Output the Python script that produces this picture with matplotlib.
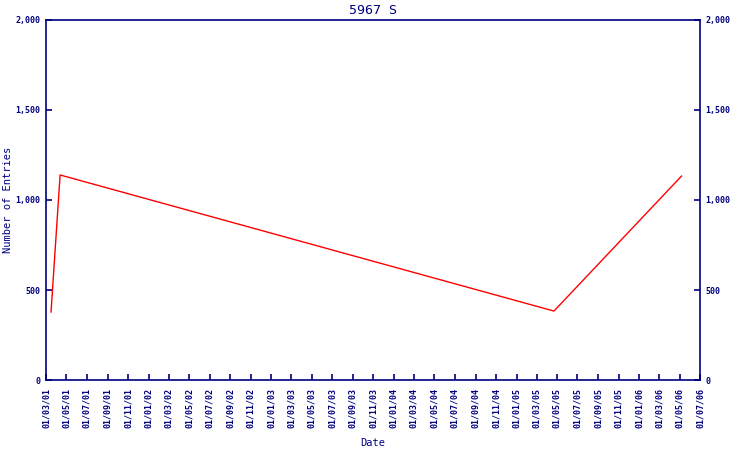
import matplotlib
matplotlib.use("Agg")
import matplotlib.pyplot as plt
import matplotlib.dates as mdates
import matplotlib.ticker as mticker
import pandas as pd

# data
dates = pd.to_datetime(["2001-03-16", "2001-04-12", "2005-04-22", "2006-05-07"])
entries = [378, 1139, 383, 1133]

title = "5967 S"
navy = "#000080"
mono = "DejaVu Sans Mono"

fig = plt.figure(figsize=(7.5, 4.5), dpi=100)
ax = fig.add_axes([46 / 750, 70 / 450, 654 / 750, 360 / 450])

ax.plot(dates, entries, color="red", linewidth=1)

ax.set_xlim(pd.Timestamp("2001-03-01"), pd.Timestamp("2006-07-01"))
ax.set_ylim(0, 2000)

ax.xaxis.set_major_locator(mdates.MonthLocator(bymonth=[1, 3, 5, 7, 9, 11]))
ax.xaxis.set_major_formatter(mdates.DateFormatter("%d/%m/%y"))
ax.yaxis.set_major_locator(mticker.MultipleLocator(500))
ax.yaxis.set_major_formatter(mticker.FuncFormatter(lambda v, p: f"{int(v):,}"))

for s in ax.spines.values():
    s.set_color(navy)
    s.set_linewidth(1.2)

ax.tick_params(axis="both", direction="in", length=4, width=1.2, color=navy,
               labelcolor=navy, labelsize=6)
ax.tick_params(axis="y", right=True, labelright=True, pad=4)
ax.tick_params(axis="x", pad=6)
for lbl in ax.get_xticklabels() + ax.get_yticklabels():
    lbl.set_fontfamily(mono)
    lbl.set_fontweight("bold")
for lbl in ax.get_xticklabels():
    lbl.set_rotation(90)

ax.set_title(title, color=navy, fontsize=9.5, fontfamily=mono, pad=4)
ax.set_xlabel("Date", color=navy, fontsize=7.5, fontfamily=mono)
ax.set_ylabel("Number of Entries", color=navy, fontsize=7.5, fontfamily=mono)
ax.xaxis.set_label_coords((373 - 46) / 654, (380 - 443) / 360)
ax.yaxis.set_label_coords((8 - 46) / 654, 0.5)
ax.xaxis.label.set_va("center")
ax.yaxis.label.set_va("center")

fig.savefig("out.png", dpi=100)
